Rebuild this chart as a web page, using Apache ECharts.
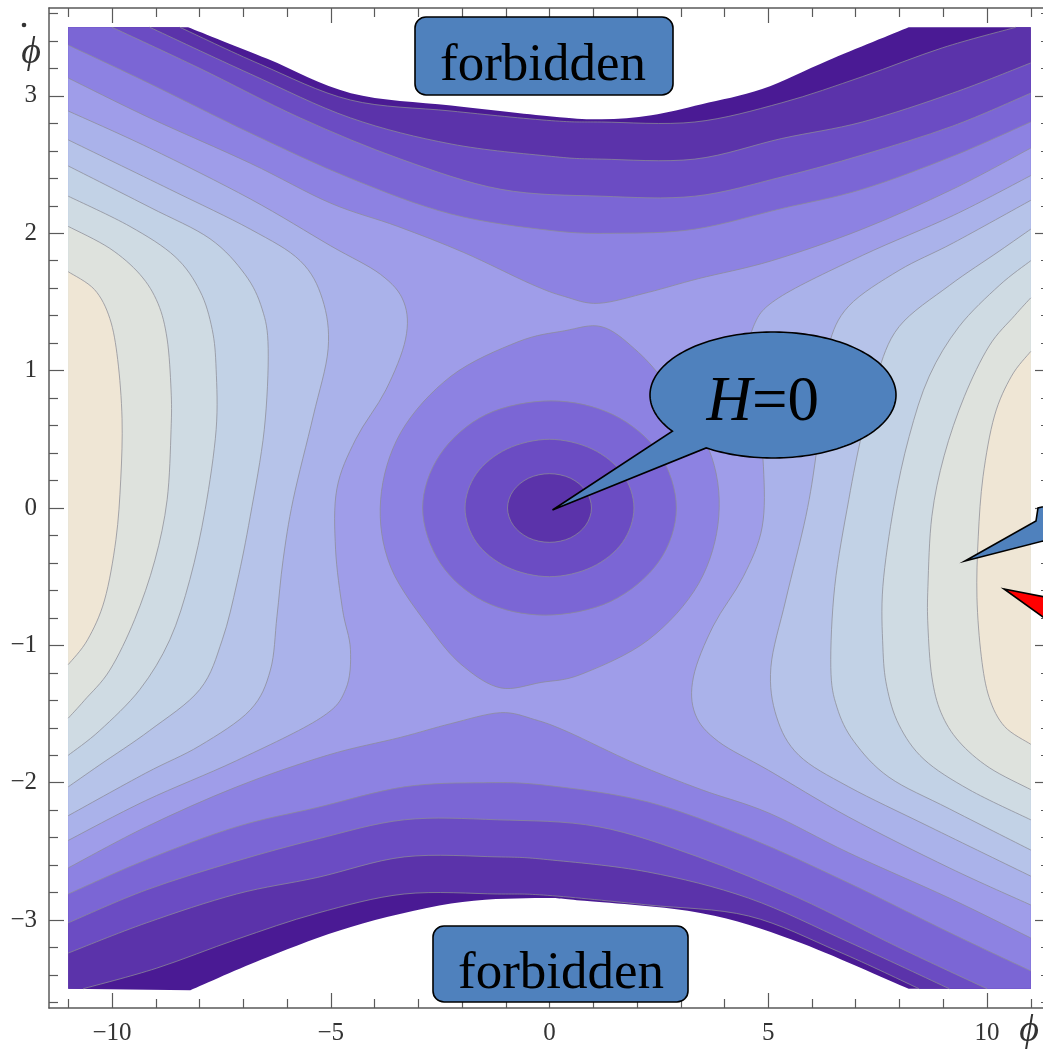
<!DOCTYPE html>
<html>
<head>
<meta charset="utf-8">
<title>H contour plot</title>
<script src="https://cdn.jsdelivr.net/npm/echarts@6/dist/echarts.min.js"></script>
<style>
html,body{margin:0;padding:0;background:#ffffff;}
#chart{width:1043px;height:1054px;}
</style>
</head>
<body>
<div id="chart"></div>
<script>
// ---------- axes ----------
const phiRange = [-11.44, 11.44];
const phiDotRange = [-3.64, 3.64];
const phiMajorTicks = [-10, -5, 0, 5, 10];
const phiMinorTicks = [-11, -9, -8, -7, -6, -4, -3, -2, -1, 1, 2, 3, 4, 6, 7, 8, 9, 11];
const phiDotMajorTicks = [-3, -2, -1, 0, 1, 2, 3];
const phiDotMinorTicks = [-3.6, -3.4, -3.2, -2.8, -2.6, -2.4, -2.2, -1.8, -1.6, -1.4, -1.2, -0.8, -0.6, -0.4, -0.2,
  0.2, 0.4, 0.6, 0.8, 1.2, 1.4, 1.6, 1.8, 2.2, 2.4, 2.6, 2.8, 3.2, 3.4, 3.6];

// ---------- plotted domain ----------
const domainCorners = [[-11, 3.5], [11, 3.5], [11, -3.5], [-11, -3.5]];
const boundaryTop = [[-8.26, 3.5], [-6.45, 3.27], [-4.54, 3.02], [-2.25, 2.93], [0.05, 2.85], [1.19, 2.83], [2.33, 2.86], [3.48, 2.94], [4.86, 3.05], [6.38, 3.26], [8.21, 3.5]];
const boundaryBottom = [[-8.21, -3.51], [-6.45, -3.27], [-4.54, -3.05], [-2.25, -2.88], [-0.34, -2.84], [0.8, -2.86], [3.48, -2.95], [5.61, -3.15], [8.21, -3.5]];

// ---------- contour lines (phi, phiDot) ----------
const upper1 = [[-8.45, 3.5], [-6.61, 3.23], [-4.55, 2.97], [-2.25, 2.89], [0.04, 2.82], [1.19, 2.81], [3.32, 2.81], [5.31, 2.95], [7.15, 3.14], [8.98, 3.35], [10.66, 3.5]];
const lower1 = [[-10.66, -3.5], [-8.98, -3.35], [-7.15, -3.14], [-5.31, -2.95], [-3.32, -2.81], [-1.19, -2.81], [-0.04, -2.82], [2.25, -2.89], [4.55, -2.97], [6.61, -3.23], [8.45, -3.5]];
const upper2 = [[-9.14, 3.5], [-6.84, 3.16], [-4.55, 2.84], [-2.25, 2.65], [0.04, 2.56], [1.19, 2.54], [3.32, 2.54], [5.31, 2.69], [7.15, 2.81], [9.21, 3.02], [11, 3.24]];
const lower2 = [[-11, -3.24], [-9.21, -3.02], [-7.15, -2.81], [-5.31, -2.69], [-3.32, -2.54], [-1.19, -2.54], [-0.04, -2.56], [2.25, -2.65], [4.55, -2.84], [6.84, -3.16], [9.14, -3.5]];
const upper3 = [[-10, 3.5], [-7.99, 3.2], [-5.7, 2.84], [-3.4, 2.54], [-1.11, 2.32], [1.19, 2.27], [3.32, 2.27], [5.31, 2.41], [7.15, 2.57], [9.21, 2.78], [11, 3.02]];
const lower3 = [[-11, -3.02], [-9.21, -2.78], [-7.15, -2.57], [-5.31, -2.41], [-3.32, -2.27], [-1.19, -2.27], [1.11, -2.32], [3.4, -2.54], [5.7, -2.84], [7.99, -3.2], [10, -3.5]];
const upper4 = [[-11, 3.37], [-9.14, 3.09], [-6.84, 2.73], [-4.55, 2.4], [-2.25, 2.14], [0.04, 2.02], [1.51, 2.0], [3.32, 2.03], [5.31, 2.18], [7.15, 2.32], [9.21, 2.56], [11, 2.81]];
const lower4 = [[-11, -2.81], [-9.21, -2.56], [-7.15, -2.32], [-5.31, -2.18], [-3.32, -2.03], [-1.51, -2.0], [-0.04, -2.02], [2.25, -2.14], [4.55, -2.4], [6.84, -2.73], [9.14, -3.09], [11, -3.37]];
const upper5 = [[-11, 3.13], [-9.14, 2.84], [-6.84, 2.51], [-5.01, 2.22], [-3.47, 2.05], [-1.96, 1.86], [-0.42, 1.63], [0.34, 1.54], [1.12, 1.49], [2.26, 1.57], [3.41, 1.67], [5.08, 1.8], [7.15, 2.03], [9.21, 2.32], [11, 2.62]];
const lower5 = [[-11, -2.62], [-9.21, -2.32], [-7.15, -2.03], [-5.08, -1.8], [-3.41, -1.67], [-2.26, -1.57], [-1.12, -1.49], [-0.34, -1.54], [0.42, -1.63], [1.96, -1.86], [3.47, -2.05], [5.01, -2.22], [6.84, -2.51], [9.14, -2.84], [11, -3.13]];

const left6 = [[-11, 2.89], [-9.14, 2.62], [-6.84, 2.25], [-5.01, 1.91], [-3.86, 1.7], [-3.33, 1.5], [-3.29, 1.23], [-3.74, 0.86], [-4.43, 0.5], [-4.86, 0.14], [-4.89, -0.3], [-4.73, -0.74], [-4.55, -1.03], [-4.66, -1.32], [-5.24, -1.53], [-7.16, -1.84], [-9.23, -2.13], [-11, -2.42]];
const right6 = [[11, -2.89], [9.14, -2.62], [6.84, -2.25], [5.01, -1.91], [3.86, -1.7], [3.33, -1.5], [3.29, -1.23], [3.74, -0.86], [4.43, -0.5], [4.86, -0.14], [4.89, 0.3], [4.73, 0.74], [4.55, 1.03], [4.66, 1.32], [5.24, 1.53], [7.16, 1.84], [9.23, 2.13], [11, 2.42]];
const left7 = [[-11, 2.68], [-8.68, 2.32], [-6.84, 2.03], [-5.7, 1.8], [-5.19, 1.52], [-5.06, 1.16], [-5.4, 0.67], [-5.86, 0.06], [-6.09, -0.38], [-6.23, -0.79], [-6.38, -1.18], [-6.84, -1.47], [-7.99, -1.73], [-9.23, -1.93], [-11, -2.24]];
const right7 = [[11, -2.68], [8.68, -2.32], [6.84, -2.03], [5.7, -1.8], [5.19, -1.52], [5.06, -1.16], [5.4, -0.67], [5.86, -0.06], [6.09, 0.38], [6.23, 0.79], [6.38, 1.18], [6.84, 1.47], [7.99, 1.73], [9.23, 1.93], [11, 2.24]];
const left8 = [[-11, 2.49], [-9.14, 2.19], [-7.76, 1.96], [-6.96, 1.7], [-6.57, 1.45], [-6.43, 1.16], [-6.52, 0.57], [-6.84, -0.06], [-7.14, -0.54], [-7.48, -0.96], [-7.99, -1.32], [-9.14, -1.62], [-10.28, -1.87], [-11, -2.03]];
const right8 = [[11, -2.49], [9.14, -2.19], [7.76, -1.96], [6.96, -1.7], [6.57, -1.45], [6.43, -1.16], [6.52, -0.57], [6.84, 0.06], [7.14, 0.54], [7.48, 0.96], [7.99, 1.32], [9.14, 1.62], [10.28, 1.87], [11, 2.03]];
const left9 = [[-11, 2.27], [-9.59, 2.05], [-8.56, 1.83], [-7.99, 1.58], [-7.71, 1.3], [-7.62, 1.01], [-7.62, 0.57], [-7.87, -0.01], [-8.22, -0.52], [-8.68, -0.96], [-9.36, -1.32], [-10.28, -1.62], [-11, -1.8]];
const right9 = [[11, -2.27], [9.59, -2.05], [8.56, -1.83], [7.99, -1.58], [7.71, -1.3], [7.62, -1.01], [7.62, -0.57], [7.87, 0.01], [8.22, 0.52], [8.68, 0.96], [9.36, 1.32], [10.28, 1.62], [11, 1.8]];
const left10 = [[-11, 2.05], [-10.05, 1.89], [-9.36, 1.7], [-8.95, 1.49], [-8.74, 1.23], [-8.65, 0.86], [-8.65, 0.57], [-8.74, 0.06], [-9.02, -0.38], [-9.48, -0.81], [-10.05, -1.18], [-10.63, -1.4], [-11, -1.53]];
const right10 = [[11, -2.05], [10.05, -1.89], [9.36, -1.7], [8.95, -1.49], [8.74, -1.23], [8.65, -0.86], [8.65, -0.57], [8.74, -0.06], [9.02, 0.38], [9.48, 0.81], [10.05, 1.18], [10.63, 1.4], [11, 1.53]];
const left11 = [[-11, 1.72], [-10.4, 1.59], [-10.05, 1.38], [-9.87, 1.08], [-9.77, 0.65], [-9.8, 0.21], [-9.91, -0.23], [-10.17, -0.67], [-10.56, -0.96], [-11, -1.14]];
const right11 = [[11, -1.72], [10.4, -1.59], [10.05, -1.38], [9.87, -1.08], [9.77, -0.65], [9.8, -0.21], [9.91, 0.23], [10.17, 0.67], [10.56, 0.96], [11, 1.14]];

// closed loops around the minimum at the origin
const loopD = [[1.19, 1.32], [1.94, 1.16], [2.65, 0.91], [3.64, 0.43], [3.87, -0.06], [3.41, -0.55], [2.26, -0.96], [0.73, -1.21], [-0.19, -1.27], [-1.11, -1.31], [-1.94, -1.16], [-2.65, -0.91], [-3.63, -0.43], [-3.86, 0.06], [-3.4, 0.55], [-2.25, 0.96], [-0.72, 1.21], [0.34, 1.29]];
const loopC = [[2.9, 0], [2.5, 0.4], [1.45, 0.68], [0.04, 0.78], [-1.45, 0.68], [-2.5, 0.39], [-2.9, 0], [-2.5, -0.4], [-1.5, -0.68], [-0.1, -0.78], [1.4, -0.68], [2.5, -0.39]];
const loopB = [[1.93, 0], [1.67, 0.25], [0.97, 0.43], [0, 0.5], [-0.97, 0.43], [-1.67, 0.25], [-1.93, 0], [-1.67, -0.25], [-0.97, -0.43], [0, -0.5], [0.97, -0.43], [1.67, -0.25]];
const loopA = [[0.96, 0], [0.83, 0.125], [0.48, 0.217], [0, 0.25], [-0.48, 0.217], [-0.83, 0.125], [-0.96, 0], [-0.83, -0.125], [-0.48, -0.217], [0, -0.25], [0.48, -0.217], [0.83, -0.125]];

const markedPoint = [0, 0]; // H = 0

// ---------- styles ----------
const FONT = "'Liberation Serif','Times New Roman',serif";
const bandColors = ['#4a1a94', '#5b33aa', '#6b4cc3', '#7b66d5', '#8d82e2', '#9f9de9',
  '#aab2ea', '#b6c3e9', '#c2d2e6', '#cfdbe3', '#dee2dd', '#efe6d5'];
const contourStroke = 'rgba(140,140,150,0.75)';
const boxBlue = '#4f81bd';

const rev = a => a.slice().reverse();
const S = pts => ({ s: pts });
const C = pts => ({ c: pts });

const bandRegions = [
  { band: 0, pieces: [S([domainCorners[0]]), C(boundaryTop), S([domainCorners[1], domainCorners[2]]), C(rev(boundaryBottom)), S([domainCorners[3]])] },
  { band: 1, pieces: [S([domainCorners[0]]), C(upper1), S([domainCorners[1], domainCorners[2]]), C(rev(lower1)), S([domainCorners[3]])] },
  { band: 2, pieces: [S([domainCorners[0]]), C(upper2), S([domainCorners[2]]), C(rev(lower2))] },
  { band: 3, pieces: [S([domainCorners[0]]), C(upper3), S([domainCorners[2]]), C(rev(lower3))] },
  { band: 4, pieces: [C(upper4), C(rev(lower4))] },
  { band: 5, pieces: [C(upper5), C(rev(lower5))] },
  { band: 6, pieces: [C(left6)] }, { band: 6, pieces: [C(right6)] },
  { band: 7, pieces: [C(left7)] }, { band: 7, pieces: [C(right7)] },
  { band: 8, pieces: [C(left8)] }, { band: 8, pieces: [C(right8)] },
  { band: 9, pieces: [C(left9)] }, { band: 9, pieces: [C(right9)] },
  { band: 10, pieces: [C(left10)] }, { band: 10, pieces: [C(right10)] },
  { band: 11, pieces: [C(left11)] }, { band: 11, pieces: [C(right11)] }
];
const loops = [{ band: 4, pts: loopD }, { band: 3, pts: loopC }, { band: 2, pts: loopB }, { band: 1, pts: loopA }];
const openLines = [upper1, lower1, upper2, lower2, upper3, lower3, upper4, lower4, upper5, lower5,
  left6, right6, left7, right7, left8, right8, left9, right9, left10, right10, left11, right11];

const f2 = v => v.toFixed(2);
function bez(P, closed) {
  const n = P.length;
  const get = i => closed ? P[(i + n) % n] : P[Math.max(0, Math.min(n - 1, i))];
  const segs = closed ? n : n - 1;
  let d = '';
  for (let i = 0; i < segs; i++) {
    const p0 = get(i - 1), p1 = get(i), p2 = get(i + 1), p3 = get(i + 2);
    const c1 = [p1[0] + (p2[0] - p0[0]) / 6, p1[1] + (p2[1] - p0[1]) / 6];
    const c2 = [p2[0] - (p3[0] - p1[0]) / 6, p2[1] - (p3[1] - p1[1]) / 6];
    d += ' C' + f2(c1[0]) + ' ' + f2(c1[1]) + ' ' + f2(c2[0]) + ' ' + f2(c2[1]) + ' ' + f2(p2[0]) + ' ' + f2(p2[1]);
  }
  return d;
}
function piecesPath(api, pieces) {
  let d = '', started = false;
  pieces.forEach(pc => {
    const P = (pc.c || pc.s).map(p => api.coord(p));
    if (pc.s) {
      P.forEach(q => { d += (started ? ' L' : 'M') + f2(q[0]) + ' ' + f2(q[1]); started = true; });
    } else {
      d += (started ? ' L' : 'M') + f2(P[0][0]) + ' ' + f2(P[0][1]);
      started = true;
      d += bez(P, false);
    }
  });
  return d + ' Z';
}
function loopPath(api, pts) {
  const P = pts.map(p => api.coord(p));
  return 'M' + f2(P[0][0]) + ' ' + f2(P[0][1]) + bez(P, true) + ' Z';
}
function linePath(api, pts) {
  const P = pts.map(p => api.coord(p));
  return 'M' + f2(P[0][0]) + ' ' + f2(P[0][1]) + bez(P, false);
}

function renderItem(params, api) {
  const children = [];
  bandRegions.forEach(r => children.push({
    type: 'path', shape: { pathData: piecesPath(api, r.pieces) },
    style: { fill: bandColors[r.band], stroke: 'none' }
  }));
  loops.forEach(l => children.push({
    type: 'path', shape: { pathData: loopPath(api, l.pts) },
    style: { fill: bandColors[l.band], stroke: 'none' }
  }));
  openLines.forEach(l => children.push({
    type: 'path', shape: { pathData: linePath(api, l) },
    style: { fill: 'none', stroke: contourStroke, lineWidth: 1 }
  }));
  loops.forEach(l => children.push({
    type: 'path', shape: { pathData: loopPath(api, l.pts) },
    style: { fill: 'none', stroke: contourStroke, lineWidth: 1 }
  }));
  return { type: 'group', children };
}

const fmt = v => (v < 0 ? '\u2212' + Math.abs(v) : String(v));
const axisLineStyle = { color: '#5a5a5a', width: 1.5 };
const tickStyle = { color: '#5a5a5a', width: 1.2 };
function mkAxis(range, position, values, len, withLine, withLabel, margin) {
  return {
    type: 'value', gridIndex: 0, position, min: range[0], max: range[1],
    axisLine: { show: withLine, onZero: false, lineStyle: axisLineStyle },
    axisTick: { show: true, inside: true, length: len, customValues: values, lineStyle: tickStyle },
    axisLabel: { show: withLabel, customValues: values, formatter: fmt, fontFamily: FONT, fontSize: 25, color: '#333', margin },
    splitLine: { show: false }, minorTick: { show: false }, minorSplitLine: { show: false }
  };
}

const chart = echarts.init(document.getElementById('chart'), null, { renderer: 'canvas' });
chart.setOption({
  animation: false,
  backgroundColor: '#ffffff',
  grid: { left: 49, top: 8, width: 1001, height: 1000, containLabel: false, outerBoundsMode: 'none' },
  xAxis: [
    mkAxis(phiRange, 'bottom', phiMajorTicks, 15, true, true, 13),
    mkAxis(phiRange, 'bottom', phiMinorTicks, 9, false, false, 13),
    mkAxis(phiRange, 'top', phiMajorTicks, 15, true, false, 10),
    mkAxis(phiRange, 'top', phiMinorTicks, 9, false, false, 10)
  ],
  yAxis: [
    mkAxis(phiDotRange, 'left', phiDotMajorTicks, 15, true, true, 12),
    mkAxis(phiDotRange, 'left', phiDotMinorTicks, 9, false, false, 12),
    mkAxis(phiDotRange, 'right', phiDotMajorTicks, 15, true, false, 12),
    mkAxis(phiDotRange, 'right', phiDotMinorTicks, 9, false, false, 12)
  ],
  series: [{
    type: 'custom', coordinateSystem: 'cartesian2d', xAxisIndex: 0, yAxisIndex: 0,
    data: [markedPoint], renderItem, clip: false, silent: true, z: 2
  }]
});

// ---------- annotations ----------
// speech-bubble outline: ellipse (decoration shape) with a tail pointing at the H=0 point
const tip = chart.convertToPixel({ gridIndex: 0 }, markedPoint);
const bubble = { cx: 773, cy: 395, rx: 123, ry: 63, a0: 144.9, a1: 484.1 };
const bubblePts = [];
for (let a = bubble.a0; a <= bubble.a1 + 0.01; a += 2) {
  const t = a * Math.PI / 180;
  bubblePts.push([bubble.cx + bubble.rx * Math.cos(t), bubble.cy + bubble.ry * Math.sin(t)]);
}
bubblePts.push([tip[0] + 3, tip[1] + 2]);

const textStyle = (text, size, align, italic) => ({
  text, fontFamily: FONT, fontSize: size, fontStyle: italic ? 'italic' : 'normal', fill: '#000',
  align, verticalAlign: 'middle', textAlign: align, textVerticalAlign: 'middle'
});

chart.setOption({
  graphic: { elements: [
    { type: 'rect', z: 100, shape: { x: 415, y: 17, width: 258, height: 78, r: 11 }, style: { fill: boxBlue, stroke: '#000', lineWidth: 1.6 } },
    { type: 'text', z: 101, x: 543, y: 66, style: textStyle('forbidden', 53, 'center', false) },
    { type: 'rect', z: 100, shape: { x: 433, y: 926, width: 255, height: 76, r: 11 }, style: { fill: boxBlue, stroke: '#000', lineWidth: 1.6 } },
    { type: 'text', z: 101, x: 561, y: 974, style: textStyle('forbidden', 53, 'center', false) },
    { type: 'polygon', z: 100, shape: { points: bubblePts }, style: { fill: boxBlue, stroke: '#000', lineWidth: 1.6 } },
    { type: 'text', z: 101, x: 752, y: 403, style: textStyle('H', 63, 'right', true) },
    { type: 'text', z: 101, x: 752, y: 403, style: textStyle('=0', 63, 'left', false) },
    { type: 'polygon', z: 100, shape: { points: [[965, 561], [1036, 521], [1038, 508], [1050, 505], [1050, 546], [1043, 541]] }, style: { fill: boxBlue, stroke: '#000', lineWidth: 1.6 } },
    { type: 'polygon', z: 100, shape: { points: [[1004, 589], [1050, 598], [1050, 622]] }, style: { fill: '#ff0000', stroke: '#000', lineWidth: 1.6 } },
    { type: 'text', z: 101, x: 31, y: 53, style: Object.assign(textStyle('\u03d5', 38, 'center', true), { fill: '#333' }) },
    { type: 'circle', z: 101, shape: { cx: 24, cy: 25, r: 2.3 }, style: { fill: '#333' } },
    { type: 'text', z: 101, x: 1029, y: 1031, style: Object.assign(textStyle('\u03d5', 38, 'center', true), { fill: '#333' }) }
  ] }
});
</script>
</body>
</html>
